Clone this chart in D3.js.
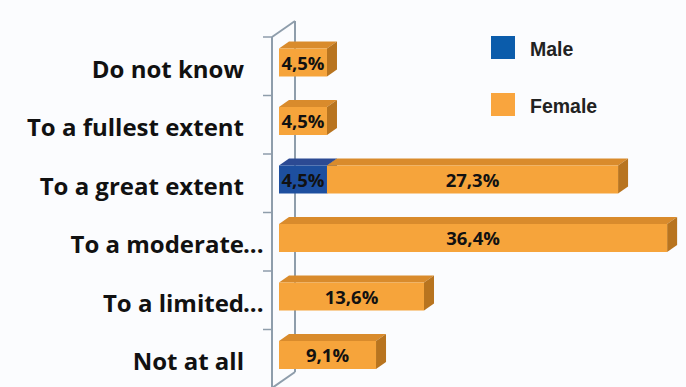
<!DOCTYPE html>
<html>
<head>
<meta charset="utf-8">
<script src="https://cdn.jsdelivr.net/npm/d3@7"></script>
<style>
  html, body { margin: 0; padding: 0; background: #fbfcfe; }
  svg { display: block; }
</style>
</head>
<body>
<svg id="chart" width="686" height="387"></svg>
<script>
// Answers, top to bottom, and the share of each group (%)
const categories = ["Do not know", "To a fullest extent", "To a great extent", "To a moderate...", "To a limited...", "Not at all"];
const male   = [0, 0, 4.5, 0, 0, 0];
const female = [4.5, 4.5, 27.3, 36.4, 13.6, 9.1];
const seriesNames = ["Male", "Female"];

const colors = {
  Male:   { front: "#1d4f9f", top: "#2c4a93", side: "#163c7a", legend: "#0b5cab" },
  Female: { front: "#f6a43b", top: "#d98b2c", side: "#b8741f", legend: "#f9a53e" }
};

const svg = d3.select("#chart");
const W = 686, H = 387;

// front-wall axis position and 3D depth offsets
const axisX = 272;
const wallDx = 23, wallDy = -16;   // depth of the back wall
const barDx = 10, barDy = -7;      // depth of each bar

const x = d3.scaleLinear().domain([0, 40]).range([279, 705.5]);
const y = d3.scaleBand().domain(categories).range([37, 388]);
const barOff = 11.5, barH = 28;

const fmt = v => d3.format(".1f")(v).replace(".", ",") + "%";
const labelFont = "'Open Sans', Lato, sans-serif";

// ---- axis walls ----
const axisColor = "#8e9dab";
const g = svg.append("g");
const yTop = y.range()[0], yBot = y.range()[1];
g.append("line").attr("x1", axisX).attr("x2", axisX).attr("y1", yTop).attr("y2", H + 5)
  .attr("stroke", axisColor).attr("stroke-width", 2);
g.append("line").attr("x1", axisX + wallDx).attr("x2", axisX + wallDx)
  .attr("y1", yTop + wallDy).attr("y2", yBot + wallDy)
  .attr("stroke", axisColor).attr("stroke-width", 2);
g.append("line").attr("x1", axisX).attr("y1", yTop).attr("x2", axisX + wallDx).attr("y2", yTop + wallDy)
  .attr("stroke", axisColor).attr("stroke-width", 2);
g.append("line").attr("x1", axisX).attr("y1", yBot).attr("x2", axisX + wallDx).attr("y2", yBot + wallDy)
  .attr("stroke", axisColor).attr("stroke-width", 2);

// tick marks on band boundaries
const tickYs = categories.map(c => y(c)).concat([yBot]);
g.selectAll("line.tick").data(tickYs).join("line").attr("class", "tick")
  .attr("x1", axisX - 9).attr("x2", axisX).attr("y1", d => d).attr("y2", d => d)
  .attr("stroke", axisColor).attr("stroke-width", 1.5);

// ---- category labels (ellipsis hangs past the right edge) ----
const labelRight = 244;
const labels = svg.append("g")
  .attr("font-family", labelFont)
  .attr("font-weight", 700).attr("font-size", 24).attr("fill", "#111");
categories.forEach(c => {
  const base = y(c) + barOff + barH / 2 + 15;
  const parts = c.split("...");
  labels.append("text").attr("x", labelRight).attr("y", base)
    .attr("text-anchor", "end").text(parts[0]);
  if (parts.length > 1) {
    labels.append("text").attr("x", labelRight - 1).attr("y", base).text("...");
  }
});

// ---- stacked 3D bars ----
const rows = categories.map((c, i) => ({ cat: c, Male: male[i], Female: female[i] }));
const stacked = d3.stack().keys(seriesNames)(rows);

const bars = svg.append("g");
stacked.forEach(layer => {
  const col = colors[layer.key];
  layer.forEach(d => {
    const v = d[1] - d[0];
    if (v <= 0) return;
    const x0 = x(d[0]), x1 = x(d[1]);
    const top = y(d.data.cat) + barOff, bot = top + barH;
    // top face
    bars.append("polygon")
      .attr("points", [[x0, top], [x0 + barDx, top + barDy], [x1 + barDx, top + barDy], [x1, top]].join(" "))
      .attr("fill", col.top);
    // right face
    bars.append("polygon")
      .attr("points", [[x1, top], [x1 + barDx, top + barDy], [x1 + barDx, bot + barDy], [x1, bot]].join(" "))
      .attr("fill", col.side);
    // front face
    bars.append("rect").attr("x", x0).attr("y", top).attr("width", x1 - x0).attr("height", barH)
      .attr("fill", col.front);
    // value label
    bars.append("text")
      .attr("x", (x0 + x1) / 2).attr("y", top + barH / 2 + 7)
      .attr("text-anchor", "middle")
      .attr("font-family", labelFont)
      .attr("font-weight", 700).attr("font-size", 18.5).attr("fill", "#111")
      .text(fmt(v));
  });
});

// ---- legend ----
const legend = svg.append("g").attr("transform", "translate(491,36)");
seriesNames.forEach((s, i) => {
  const row = legend.append("g").attr("transform", `translate(0,${i * 57})`);
  row.append("rect").attr("width", 24).attr("height", 23).attr("fill", colors[s].legend);
  row.append("text").attr("x", 39).attr("y", 20)
    .attr("font-family", "'Liberation Sans', Arial, sans-serif")
    .attr("font-weight", 700).attr("font-size", 19.5).attr("fill", "#222")
    .text(s);
});
</script>
</body>
</html>
